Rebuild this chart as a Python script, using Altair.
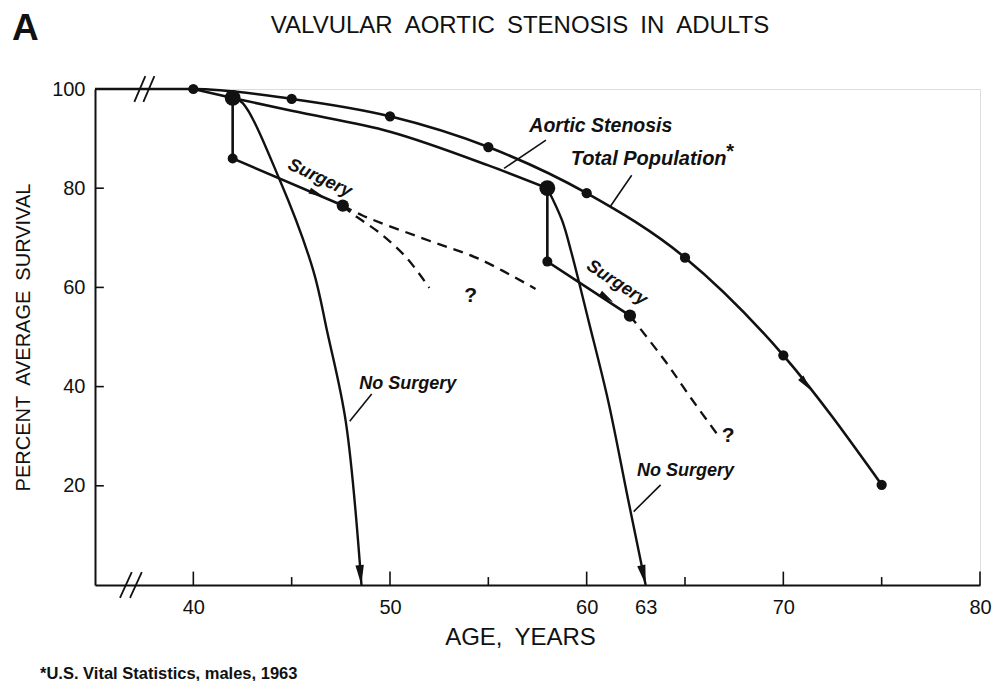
import altair as alt
import pandas as pd

# ---------------- data ----------------
# Total population (U.S. Vital Statistics, males, 1963)
tp_age = [35, 40, 45, 50, 55, 60, 65, 70, 75]
tp_surv = [100, 100, 98, 94.5, 88.3, 79, 66, 46.3, 20.2]
tp_dot_age = [40, 45, 50, 55, 60, 65, 70, 75]
tp_dot_surv = [100, 98, 94.5, 88.3, 79, 66, 46.3, 20.2]

# Aortic stenosis
as_age = [40, 42, 45, 50, 55, 58]
as_surv = [100, 98.2, 95.6, 91.4, 84.6, 80]

# No surgery branches
ns1_age = [42, 42.5, 44.4, 46.1, 46.8, 47.75, 48.55]
ns1_surv = [98.2, 97.2, 81.6, 63.4, 51.2, 33, 0]
ns2_age = [58, 58.75, 59.2, 60.1, 61.1, 62.1, 63.0]
ns2_surv = [80, 73.5, 67.4, 53.2, 37, 17.4, 0]

# Surgery branches
s1_age = [42, 42, 47.6]
s1_surv = [98.2, 86, 76.5]
s2_age = [58, 58, 62.2]
s2_surv = [80, 65.2, 54.3]

# Dashed (uncertain) continuations
d1_age = [47.6, 48.0, 49.5, 50.84, 52.0]
d1_surv = [76.5, 75.1, 70.9, 66, 59.9]
d2_age = [47.6, 48.6, 52.0, 54.5, 57.4]
d2_surv = [76.5, 74.5, 69.4, 65.8, 59.7]
d3_age = [62.2, 64, 65.3, 66.6]
d3_surv = [54.3, 45.1, 37.7, 30.6]

# Dots
big_age = [42, 58]
big_surv = [98.2, 80]
mid_age = [47.6, 62.2]
mid_surv = [76.5, 54.3]
small_age = [42, 58]
small_surv = [86, 65.2]

# Arrowheads
arrow_age = [46.28, 61.02, 71.15, 48.5, 62.89]
arrow_surv = [78.9, 57.9, 40.5, 2.0, 2.0]
arrow_angle = [23, 33, 51, 85, 77]
arrow_size = [240, 240, 270, 400, 400]

# Leader lines for labels
lead_age = [57.93, 62.29, 49.07, 63.76]
lead_age2 = [55.8, 61.2, 47.95, 62.39]
lead_surv = [89.68, 82.6, 38.5, 20.2]
lead_surv2 = [84.0, 76.3, 33.0, 14.8]

# Labels
ann_text = ["Aortic Stenosis", "Total Population", "Surgery", "Surgery",
            "No Surgery", "No Surgery"]
ann_age = [60.72, 63.15, 46.43, 61.53, 50.9, 65.03]
ann_surv = [92.5, 85.8, 82.0, 60.9, 40.5, 22.9]
ann_angle = [0, 0, 25, 33, 0, 0]
ann_size = [19.5, 20, 18, 18, 18, 18]
star_age = [67.3]
star_surv = [87.3]
q_age = [54.1, 67.2]
q_surv = [58.3, 30.0]

# Axis ticks
x_major = [40, 50, 60, 70, 80]
x_minor = [45, 55, 65, 75]
x_labels = [40, 50, 60, 63, 70, 80]
y_ticks = [20, 40, 60, 80]
y_labels = [20, 40, 60, 80, 100]

# Axis break marks (centres)
xbreak_age = [36.57, 37.08]
ybreak_age = [37.28, 37.74]

# ---------------- chart ----------------
INK = "#111111"
FONT = "Liberation Sans"

xscale = alt.Scale(domain=[35, 80], nice=False, zero=False)
yscale = alt.Scale(domain=[0, 100], nice=False, zero=False)
xaxis = alt.Axis(values=x_labels, ticks=False, grid=False, domainColor=INK, domainWidth=2,
                 labelFont=FONT, labelFontSize=20, labelColor=INK, labelPadding=12,
                 labelFlush=False, title="AGE,\u2002YEARS", titleFont=FONT, titleFontSize=24,
                 titleFontWeight="normal", titleColor=INK, titleX=425, titleY=40)
yaxis = alt.Axis(values=y_labels, ticks=False, grid=False, domainColor=INK, domainWidth=2,
                 labelFont=FONT, labelFontSize=20, labelColor=INK, labelPadding=10,
                 title="PERCENT\u2002AVERAGE\u2002SURVIVAL", titleFont=FONT,
                 titleFontSize=20, titleFontWeight="normal", titleColor=INK, titlePadding=18)


def X(f="age"):
    return alt.X(f + ":Q", scale=xscale, axis=xaxis)


def Y(f="surv"):
    return alt.Y(f + ":Q", scale=yscale, axis=yaxis)


def line(xs, ys, width=2.6, interp="monotone", dash=None):
    df = pd.DataFrame({"age": xs, "surv": ys, "i": list(range(len(xs)))})
    kw = dict(color=INK, strokeWidth=width, interpolate=interp)
    if dash:
        kw["strokeDash"] = dash
    return alt.Chart(df).mark_line(**kw).encode(x=X(), y=Y(), order="i:Q")


def dots(xs, ys, size):
    df = pd.DataFrame({"age": xs, "surv": ys})
    return alt.Chart(df).mark_point(filled=True, color=INK, opacity=1, size=size).encode(x=X(), y=Y())


def segs(a1, a2, s1, s2, width=1.6):
    df = pd.DataFrame({"age": a1, "age2": a2, "surv": s1, "surv2": s2})
    return alt.Chart(df).mark_rule(color=INK, strokeWidth=width).encode(
        x=X(), x2=alt.X2("age2"), y=Y(), y2=alt.Y2("surv2"))


layers = []
layers.append(line(tp_age, tp_surv))
layers.append(line(as_age, as_surv))
layers.append(line(ns1_age, ns1_surv, width=2.4, interp="catmull-rom"))
layers.append(line(ns2_age, ns2_surv, width=2.4, interp="catmull-rom"))
layers.append(line(s1_age, s1_surv, interp="linear"))
layers.append(line(s2_age, s2_surv, interp="linear"))
layers.append(line(d1_age, d1_surv, width=2.3, dash=[10, 7], interp="catmull-rom"))
layers.append(line(d2_age, d2_surv, width=2.3, dash=[10, 7], interp="catmull-rom"))
layers.append(line(d3_age, d3_surv, width=2.3, dash=[10, 7], interp="catmull-rom"))

layers.append(dots(tp_dot_age, tp_dot_surv, 105))
layers.append(dots(big_age, big_surv, 250))
layers.append(dots(mid_age, mid_surv, 150))
layers.append(dots(small_age, small_surv, 100))

arrow_df = pd.DataFrame({"age": arrow_age, "surv": arrow_surv, "ang": arrow_angle, "sz": arrow_size})
layers.append(alt.Chart(arrow_df).mark_point(
    filled=True, color=INK, opacity=1, shape="M-1,-0.42L1,0L-1,0.42Z").encode(
    x=X(), y=Y(), angle=alt.Angle("ang:Q", scale=None), size=alt.Size("sz:Q", scale=None)))

# leader lines
layers.append(segs(lead_age, lead_age2, lead_surv, lead_surv2, width=1.6))

# axis ticks (inward)
layers.append(segs(x_major, x_major, [0] * len(x_major), [2.7] * len(x_major), width=1.6))
layers.append(segs(x_minor, x_minor, [0] * len(x_minor), [1.6] * len(x_minor), width=1.6))
layers.append(segs([35] * len(y_ticks), [35.45] * len(y_ticks), y_ticks, y_ticks, width=1.6))

# axis break marks
layers.append(segs([a - 0.3 for a in xbreak_age], [a + 0.3 for a in xbreak_age],
                   [-2.6] * 2, [2.6] * 2, width=1.8))
layers.append(segs([a - 0.28 for a in ybreak_age], [a + 0.28 for a in ybreak_age],
                   [97.4] * 2, [102.6] * 2, width=1.8))

# labels
ann_df = pd.DataFrame({"age": ann_age, "surv": ann_surv, "t": ann_text,
                       "ang": ann_angle, "fs": ann_size})
layers.append(alt.Chart(ann_df).mark_text(
    font=FONT, fontStyle="italic", fontWeight="bold", color=INK,
    align="center", baseline="middle").encode(
    x=X(), y=Y(), text="t:N", angle=alt.Angle("ang:Q", scale=None),
    size=alt.Size("fs:Q", scale=None)))

star_df = pd.DataFrame({"age": star_age, "surv": star_surv, "t": ["*"]})
layers.append(alt.Chart(star_df).mark_text(
    font=FONT, fontSize=20, fontWeight="bold", color=INK, align="center", baseline="middle").encode(
    x=X(), y=Y(), text="t:N"))

q_df = pd.DataFrame({"age": q_age, "surv": q_surv, "t": ["?", "?"]})
layers.append(alt.Chart(q_df).mark_text(
    font=FONT, fontSize=21, fontWeight="bold", color=INK, align="center", baseline="middle").encode(
    x=X(), y=Y(), text="t:N"))

# title, panel letter and footnote
title_df = pd.DataFrame({"t": ["VALVULAR\u2002AORTIC\u2002STENOSIS\u2002IN\u2002ADULTS"]})
layers.append(alt.Chart(title_df).mark_text(
    font=FONT, fontSize=24, color=INK, align="center", baseline="alphabetic").encode(
    x=alt.value(425), y=alt.value(-56), text="t:N"))

panel_df = pd.DataFrame({"t": ["A"]})
layers.append(alt.Chart(panel_df).mark_text(
    font=FONT, fontSize=37, fontWeight="bold", color=INK, align="left", baseline="alphabetic").encode(
    x=alt.value(-83), y=alt.value(-49), text="t:N"))

foot_df = pd.DataFrame({"t": ["*U.S. Vital Statistics, males, 1963"]})
layers.append(alt.Chart(foot_df).mark_text(
    font=FONT, fontSize=16.5, fontWeight="bold", color=INK, align="left", baseline="alphabetic").encode(
    x=alt.value(-55), y=alt.value(590), text="t:N"))

chart = alt.layer(*layers).properties(
    width=885, height=496,
    padding={"left": 87, "top": 81, "right": 14, "bottom": 96},
    autosize=alt.AutoSizeParams(type="none"),
).configure_view(stroke=None).configure(background="white")

chart.save("out.html", embed_options={"renderer": "svg", "actions": False})
